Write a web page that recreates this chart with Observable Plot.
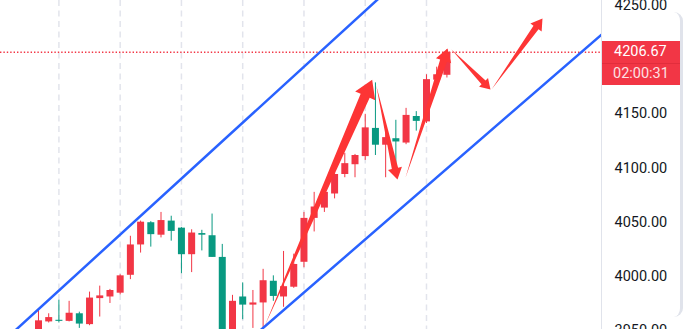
<!DOCTYPE html>
<html><head><meta charset="utf-8">
<script src="https://cdn.jsdelivr.net/npm/d3@7"></script>
<script src="https://cdn.jsdelivr.net/npm/@observablehq/plot@0.6"></script>
<style>
html,body{margin:0;padding:0;background:#fff;}
#wrap{position:relative;width:683px;height:329px;overflow:hidden;font-family:Roboto,"Liberation Sans",sans-serif;}
#wrap svg{display:block;}
.axisline{position:absolute;left:601px;top:0;width:1px;height:329px;background:#e0e3eb;}
.edge{position:absolute;left:664px;top:12px;width:16px;height:305px;border-right:3px solid #e0e3eb;border-top-right-radius:9px;border-bottom-right-radius:9px;box-sizing:content-box;}
.pbox{position:absolute;left:602px;width:78px;height:44px;background:#f23645;color:#fff;font-size:14.5px;}
.pbox .div{position:absolute;left:0;right:0;top:22px;height:1px;background:rgba(180,20,35,0.25);}
.pbox span{position:absolute;left:12px;line-height:16px;white-space:nowrap;}
</style>
</head><body>
<div id="wrap"></div>
<script>
// ---- data ----
const opens  = [3946,3958,3959.5,3958.5,3965.5,3955.5,3979.5,3981,3984.5,4001,4029,4049.5,4038,4051,4044.5,4020,4039.5,4037.5,4017.5,3942,3981,3973.5,3975.5,3995.5,3981,3990,4013,4053.5,4063,4076,4094,4103,4110.5,4136.5,4121,4127,4123,4147.5,4142.5,4181,4185.5];
const highs  = [3970,3965.5,3978,3977,3967,3985.5,3991,3988,4001.5,4037,4051,4050.5,4059,4055.5,4045,4043,4042.5,4057.5,4029.5,3982.5,3994,3987,4006.5,4000.5,4023,4020.5,4059,4077.5,4083.5,4096,4113.5,4112.5,4149.5,4178.5,4134.5,4144,4155,4152,4186,4193,4209];
const lows   = [3943,3957,3957,3958,3952,3954.5,3962.5,3975,3983,3997,4021.5,4027,4035.5,4032.5,4002.5,4003.5,4023.5,4017.5,3935,3935,3960,3952,3952,3977,3971.5,3989,4008,4041,4059,4071.5,4091,4091,4107,4111.5,4091,4091.5,4121.5,4134,4141,4176,4183];
const closes = [3959,3962,3958.5,3966,3956,3980,3982,3987,4000.5,4029,4050,4038.5,4051.5,4041.5,4020,4040,4038,4017.5,3940,3977,3973.5,3975.5,3996,3981.5,3990.5,4011,4053.5,4064,4077.5,4094,4104,4111.5,4137,4121,4128,4124,4148.5,4143,4181.5,4186,4206.67];
const yTicks = [3950, 4000, 4050, 4100, 4150, 4250];
const gridIdx = [2, 8, 14, 20, 26, 32, 38];
const lastPrice = 4206.67;
const countdown = "02:00:31";
const upperLineIdx = [-3, 34];
const upperLinePrice = [3943.9, 4262.2];
const lowerLineIdx = [21.6, 56];
const lowerLinePrice = [3949.2, 4230.0];
const arrowStartIdx = [22.13, 33.08, 35.95, 40.45, 44.37];
const arrowStartPrice = [3953.8, 4176.1, 4091.2, 4209.3, 4172.4];
const arrowEndIdx = [32.68, 35.16, 40.06, 44.27, 49.36];
const arrowEndPrice = [4181.4, 4089.4, 4210.2, 4172.4, 4237.9];

// ---- layout ----
const W = 683, H = 329, MR = 82;
const RED = "#f23645", GREEN = "#089981", BLUE = "#2962ff", ARROW = "#fd3535";
const xDomain = [-3.72, 55.14];
const yDomain = [3951.0, 4254.5];
const xs = Plot.scale({x: {domain: xDomain, range: [0, W - MR]}});
const ys = Plot.scale({y: {domain: yDomain, range: [H, 0]}});

const candles = opens.map((o, i) => ({i, o, h: highs[i], l: lows[i], c: closes[i]}));
const ups = candles.filter(d => d.c >= d.o);
const downs = candles.filter(d => d.c < d.o);

const upper = upperLineIdx.map((x, k) => ({x, y: upperLinePrice[k]}));
const lower = lowerLineIdx.map((x, k) => ({x, y: lowerLinePrice[k]}));

const arrowPts = [];
arrowStartIdx.forEach((_, k) => {
  const x0 = xs.apply(arrowStartIdx[k]), y0 = ys.apply(arrowStartPrice[k]);
  const x1 = xs.apply(arrowEndIdx[k]), y1 = ys.apply(arrowEndPrice[k]);
  const dx = x1 - x0, dy = y1 - y0, L = Math.hypot(dx, dy);
  const ux = dx / L, uy = dy / L, nx = -uy, ny = ux;
  const hw = 5 + 0.022 * L, sw = 0.45 * hw, hl = 1.6 * hw;
  const bx = x1 - ux * hl, by = y1 - uy * hl;
  const poly = [[x0, y0], [bx + nx * sw, by + ny * sw], [bx + nx * hw, by + ny * hw], [x1, y1],
                [bx - nx * hw, by - ny * hw], [bx - nx * sw, by - ny * sw]];
  poly.forEach(([px, py]) => arrowPts.push({id: k, x: xs.invert(px), y: ys.invert(py)}));
});

const chart = Plot.plot({
  width: W, height: H,
  marginLeft: 0, marginTop: 0, marginBottom: 0, marginRight: MR,
  style: {fontSize: "14.5px", fontFamily: "Roboto, 'Liberation Sans', sans-serif", color: "#131722", background: "transparent", overflow: "visible"},
  x: {domain: xDomain, axis: null},
  y: {domain: yDomain, axis: "right", ticks: yTicks, tickSize: 0, tickPadding: 13, tickFormat: d => d.toFixed(2), label: null},
  marks: [
    Plot.ruleX(gridIdx, {stroke: "#e2e4ec", strokeWidth: 1.5, strokeDasharray: "6,4.5"}),
    Plot.ruleY([lastPrice], {stroke: RED, strokeWidth: 1.5, strokeDasharray: "1.4,2"}),
    Plot.ruleX(ups, {x: "i", y1: "l", y2: "h", stroke: RED, strokeWidth: 1}),
    Plot.ruleX(downs, {x: "i", y1: "l", y2: "h", stroke: GREEN, strokeWidth: 1}),
    Plot.ruleX(ups, {x: "i", y1: "o", y2: "c", stroke: RED, strokeWidth: 7}),
    Plot.ruleX(downs, {x: "i", y1: "o", y2: "c", stroke: GREEN, strokeWidth: 7}),
    Plot.line(upper, {x: "x", y: "y", stroke: BLUE, strokeWidth: 2.5, clip: true}),
    Plot.line(lower, {x: "x", y: "y", stroke: BLUE, strokeWidth: 2.5, clip: true}),
    Plot.line(arrowPts, {x: "x", y: "y", z: "id", fill: ARROW, stroke: "none", curve: "linear-closed"})
  ]
});

const wrap = document.getElementById("wrap");
wrap.appendChild(chart);
const ax = document.createElement("div"); ax.className = "axisline"; wrap.appendChild(ax);
const edge = document.createElement("div"); edge.className = "edge"; wrap.appendChild(edge);

const py = chart.scale("y").apply(lastPrice);
const box = document.createElement("div");
box.className = "pbox";
box.style.top = (py - 10.6) + "px";
box.innerHTML = '<div class="div"></div><span style="top:3px"></span><span style="top:25px;left:11px;opacity:0.85"></span>';
const spans = box.querySelectorAll("span");
spans[0].textContent = lastPrice.toFixed(2);
spans[1].textContent = countdown;
wrap.appendChild(box);
</script>
</body></html>
